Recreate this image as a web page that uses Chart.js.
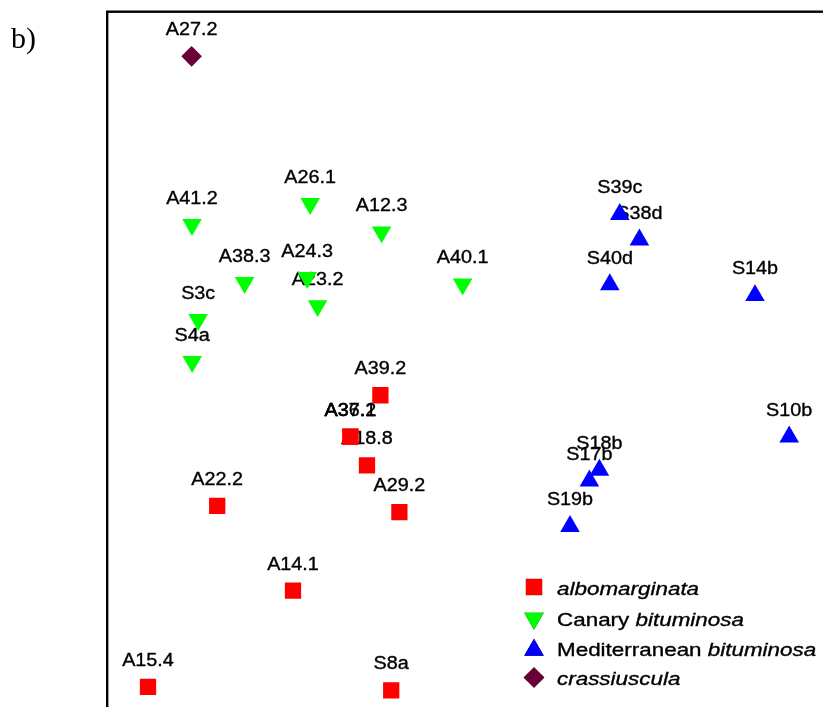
<!DOCTYPE html>
<html>
<head>
<meta charset="utf-8">
<script src="https://cdn.jsdelivr.net/npm/chart.js@4/dist/chart.umd.min.js"></script>
<style>
  html, body { margin: 0; padding: 0; background: #fff; overflow: hidden; width: 823px; height: 707px; }
  #c { position: absolute; left: 0; top: 0; }
</style>
</head>
<body>
<canvas id="c" width="920" height="820"></canvas>
<script>
// ---- Data (ordination scores) ----
const alboLabels = ["A39.2", "A37.2", "A36.1", "A18.8", "A22.2", "A29.2", "A14.1", "A15.4", "S8a"];
const alboX = [-0.633, -0.783, -0.783, -0.700, -1.449, -0.538, -1.070, -1.795, -0.579];
const alboY = [0.074, -0.134, -0.134, -0.278, -0.481, -0.512, -0.907, -1.390, -1.407];

const canaryLabels = ["A26.1", "A41.2", "A12.3", "A38.3", "A24.3", "A23.2", "A40.1", "S3c", "S4a"];
const canaryX = [-0.984, -1.575, -0.627, -1.312, -0.999, -0.947, -0.222, -1.544, -1.574];
const canaryY = [1.036, 0.930, 0.893, 0.639, 0.664, 0.523, 0.631, 0.453, 0.243];

const medLabels = ["S39c", "S38d", "S40d", "S14b", "S10b", "S18b", "S17b", "S19b"];
const medX = [0.564, 0.662, 0.514, 1.240, 1.411, 0.462, 0.412, 0.315];
const medY = [0.982, 0.854, 0.629, 0.575, -0.135, -0.302, -0.355, -0.584];

const crassLabels = ["A27.2"];
const crassX = [-1.577];
const crassY = [1.775];

const seriesNames = ["albomarginata", "Canary bituminosa", "Mediterranean bituminosa", "crassiuscula"];
// legend text parts: [text, italic]
const legendParts = [
  [["albomarginata", true]],
  [["Canary ", false], ["bituminosa", true]],
  [["Mediterranean ", false], ["bituminosa", true]],
  [["crassiuscula", true]]
];

const toPts = (xs, ys) => xs.map((x, i) => ({ x: x, y: ys[i] }));

const datasets = [
  { label: seriesNames[0], data: toPts(alboX, alboY), pointLabels: alboLabels,
    backgroundColor: "#ff0000", pointStyle: "rect", pointRadius: 11.5, rotation: 0 },
  { label: seriesNames[1], data: toPts(canaryX, canaryY), pointLabels: canaryLabels,
    backgroundColor: "#00ff00", pointStyle: "triangle", pointRadius: 11.3, rotation: 180 },
  { label: seriesNames[2], data: toPts(medX, medY), pointLabels: medLabels,
    backgroundColor: "#0000ff", pointStyle: "triangle", pointRadius: 11.3, rotation: 0 },
  { label: seriesNames[3], data: toPts(crassX, crassY), pointLabels: crassLabels,
    backgroundColor: "#6a0036", pointStyle: "rectRot", pointRadius: 10.3, rotation: 0 }
];
datasets.forEach(d => { d.borderWidth = 0; d.pointBorderWidth = 0; d.pointHoverRadius = d.pointRadius; d.pointBackgroundColor = d.backgroundColor; });

function stretchText(ctx, text, x, y, sx, stroke) {
  ctx.save();
  ctx.translate(x, y);
  ctx.scale(sx, 1);
  ctx.fillText(text, 0, 0);
  if (stroke) { ctx.lineWidth = stroke; ctx.strokeStyle = ctx.fillStyle; ctx.strokeText(text, 0, 0); }
  ctx.restore();
}

const decorPlugin = {
  id: "decor",
  beforeDatasetsDraw(chart) {
    const ctx = chart.ctx;
    // point labels (drawn under markers)
    ctx.save();
    ctx.fillStyle = "#000";
    ctx.font = '18px "Liberation Sans", Arial, sans-serif';
    ctx.textAlign = "center";
    ctx.textBaseline = "middle";
    chart.data.datasets.forEach((ds, di) => {
      const meta = chart.getDatasetMeta(di);
      meta.data.forEach((el, i) => {
        stretchText(ctx, ds.pointLabels[i], el.x, el.y - 26, 1.1, 0.35);
      });
    });
    ctx.restore();
  },
  afterDatasetsDraw(chart) {
    const ctx = chart.ctx;
    const a = chart.chartArea;
    // frame
    ctx.save();
    ctx.strokeStyle = "#000";
    ctx.lineWidth = 2.4;
    ctx.strokeRect(a.left + 0.2, a.top + 0.2, a.right - a.left, a.bottom - a.top);
    ctx.restore();

    // panel letter
    ctx.save();
    ctx.fillStyle = "#000";
    ctx.font = '30px "Liberation Serif", "Times New Roman", serif';
    ctx.textAlign = "left";
    ctx.textBaseline = "alphabetic";
    ctx.fillText("b)", 11, 48);
    ctx.restore();

    // legend (inside plot, lower right)
    const markerX = 534;
    const markerY = [587, 618.5, 650, 677.5];
    const baseY = [594.5, 625.5, 655.5, 685];
    const textX = 557;
    const sx = 1.18;
    ctx.save();
    chart.data.datasets.forEach((ds, di) => {
      Chart.helpers.drawPoint(ctx, {
        pointStyle: ds.pointStyle,
        rotation: ds.rotation,
        radius: ds.pointRadius,
        borderWidth: 0
      }, markerX, markerY[di]);
      ctx.fillStyle = ds.backgroundColor;
      ctx.fill();
      let x = textX;
      ctx.fillStyle = "#000";
      ctx.textAlign = "left";
      ctx.textBaseline = "alphabetic";
      legendParts[di].forEach(([t, it]) => {
        ctx.font = (it ? "italic " : "") + '19px "Liberation Sans", Arial, sans-serif';
        stretchText(ctx, t, x, baseY[di], sx, 0.35);
        x += ctx.measureText(t).width * sx;
      });
    });
    ctx.restore();
  }
};

new Chart(document.getElementById("c"), {
  type: "scatter",
  data: { datasets: datasets },
  options: {
    responsive: false,
    devicePixelRatio: 1,
    animation: false,
    layout: { padding: { left: 107, top: 10, right: 13, bottom: 10 } },
    scales: {
      x: { type: "linear", min: -2, max: 2, display: false },
      y: { type: "linear", min: -2, max: 2, display: false }
    },
    plugins: {
      legend: { display: false },
      tooltip: { enabled: false }
    },
    events: []
  },
  plugins: [decorPlugin]
});
</script>
</body>
</html>
